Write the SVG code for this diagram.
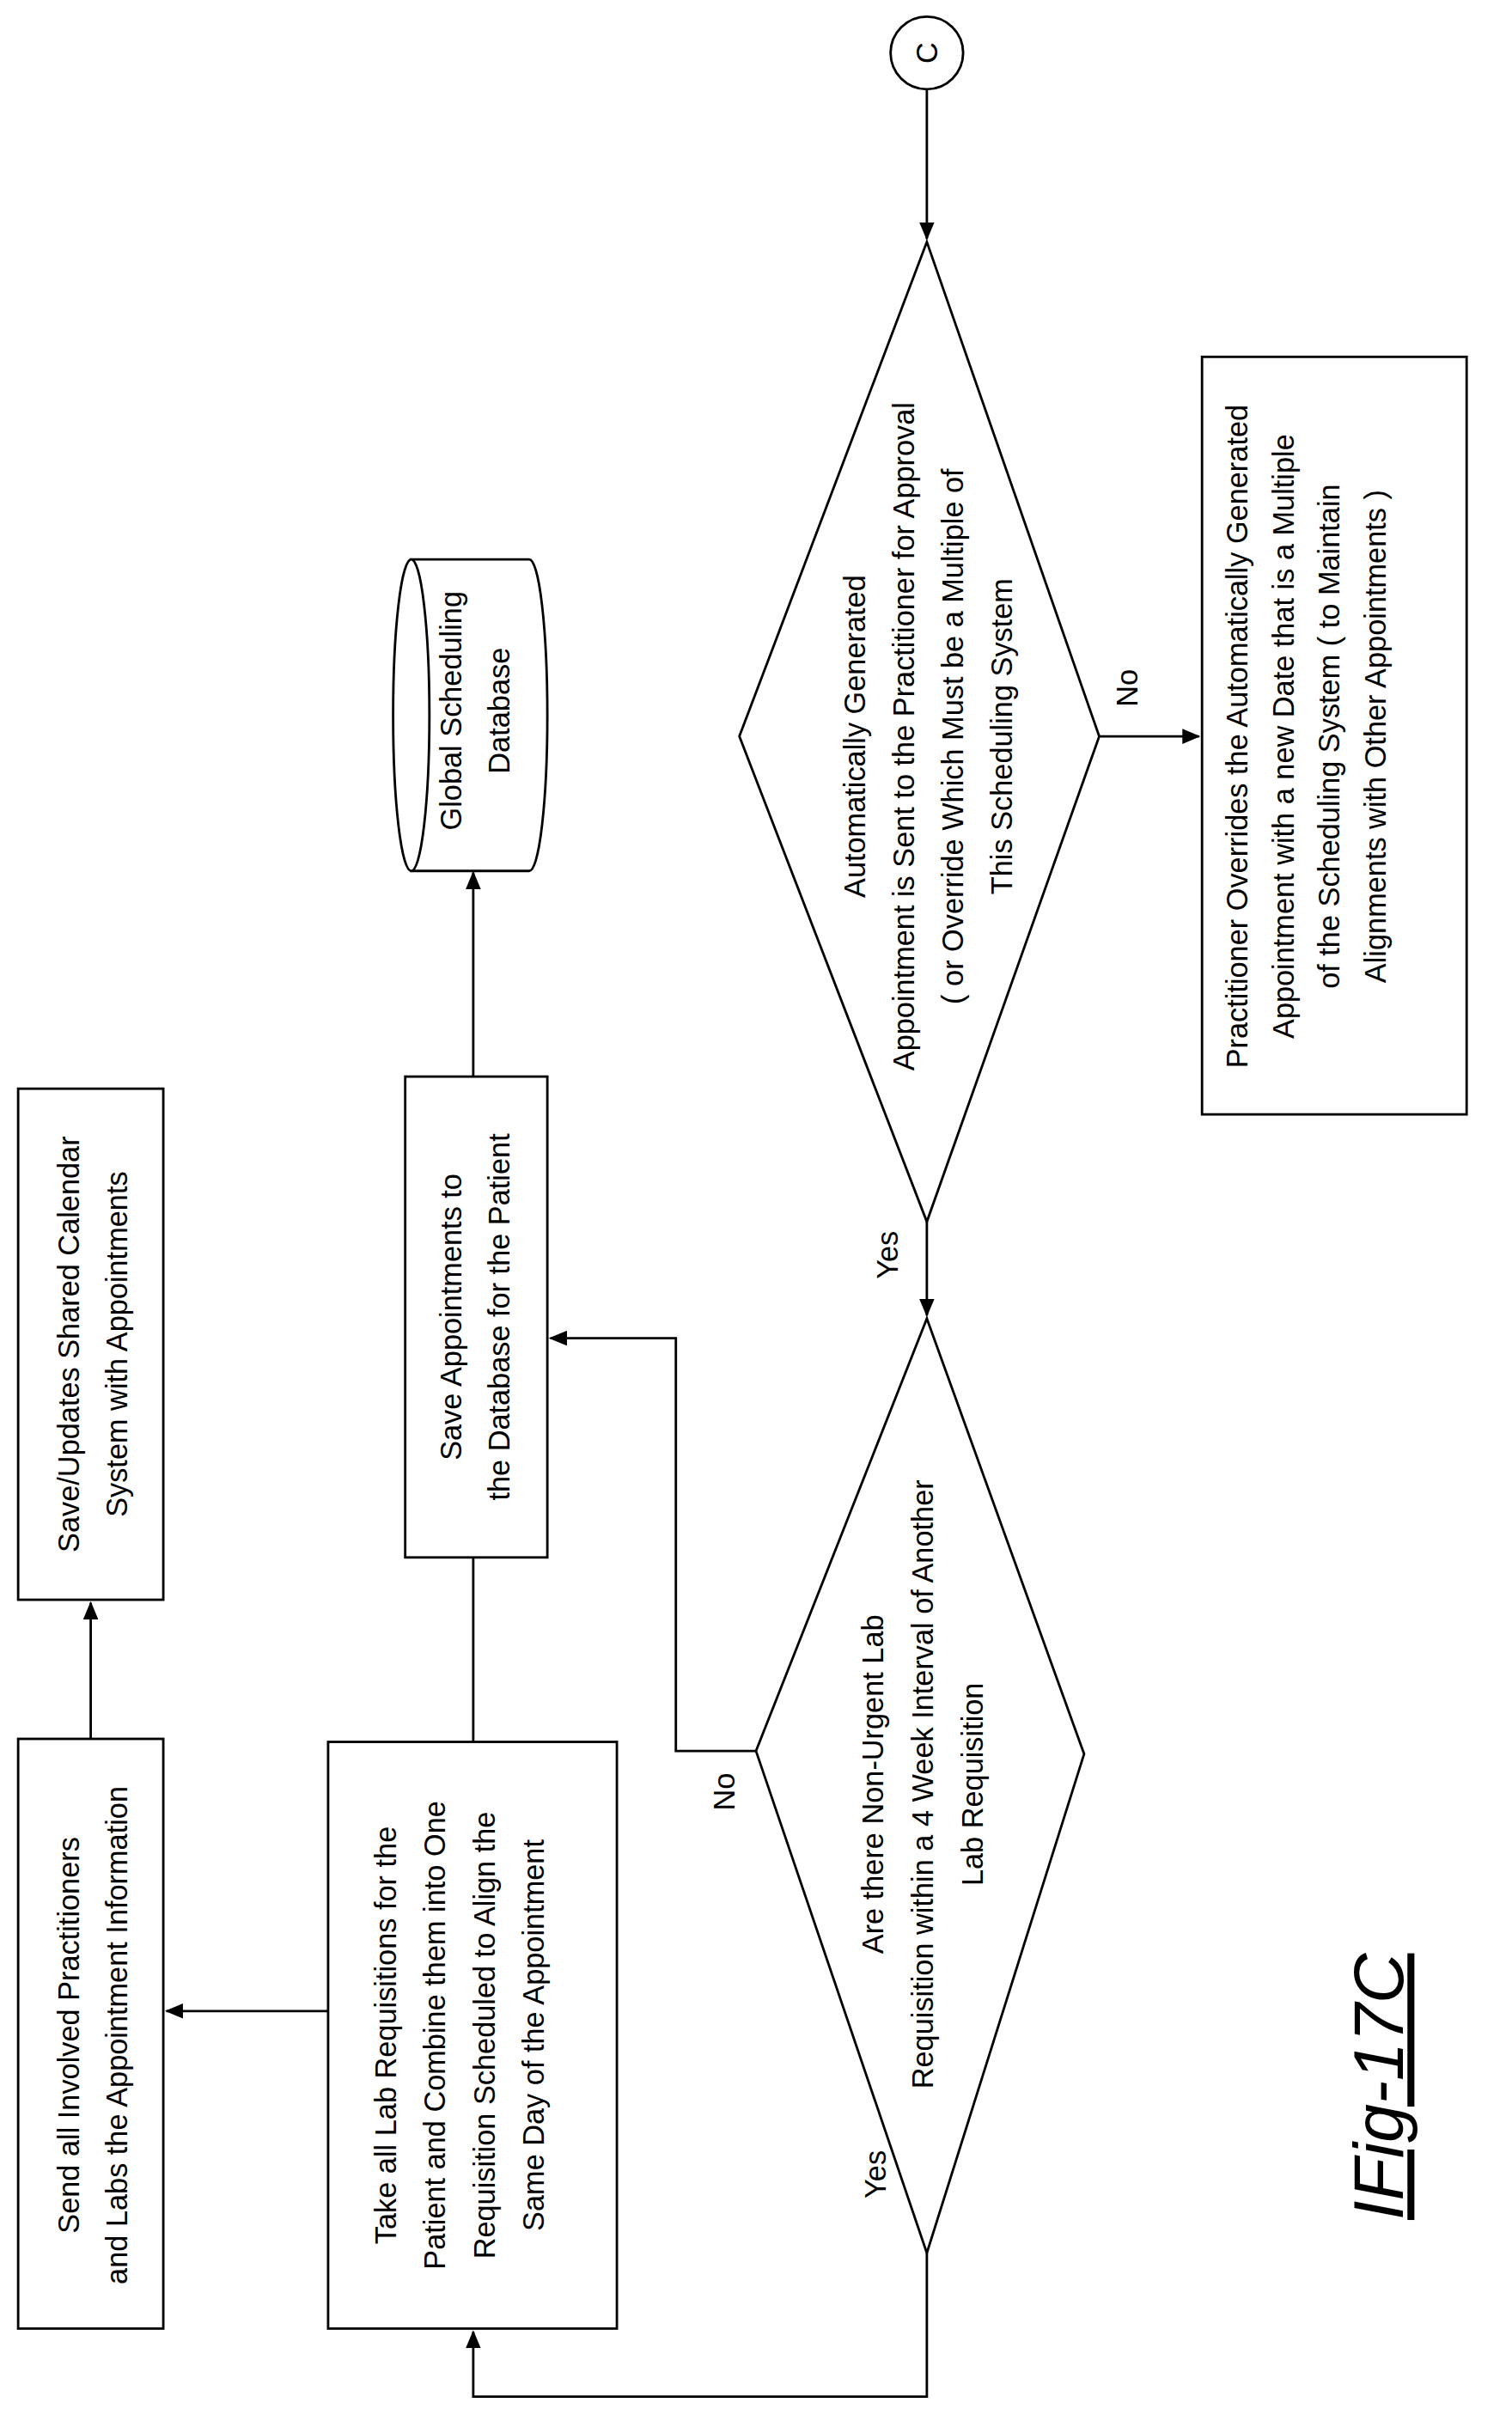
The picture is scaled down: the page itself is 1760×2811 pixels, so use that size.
<svg xmlns="http://www.w3.org/2000/svg" width="1760" height="2811" viewBox="0 0 1760 2811">
<style>
.s{fill:none;stroke:#000;stroke-width:1.6}
.w{fill:#fff;stroke:#000;stroke-width:1.6}
text{font-family:"Liberation Sans Narrow","Liberation Sans",Arial,sans-serif;font-size:19.5px;fill:#000;text-anchor:middle}
</style>
<defs><marker id="a" markerWidth="12" markerHeight="10" refX="11" refY="5" orient="auto" markerUnits="userSpaceOnUse"><path d="M0,0 L12,5 L0,10 Z" fill="#000"/></marker></defs>
<rect width="1760" height="2811" fill="#fff"/>
<g transform="scale(1.76)">
<g id="connectors">
<line class="s" x1="613" y1="59" x2="613" y2="158" marker-end="url(#a)"/>
<line class="s" x1="727" y1="487" x2="793" y2="487" marker-end="url(#a)"/>
<line class="s" x1="613" y1="808" x2="613" y2="870" marker-end="url(#a)"/>
<polyline class="s" points="500,1158 447,1158 447,885 364,885" marker-end="url(#a)"/>
<polyline class="s" points="613,1490 613,1585 313,1585 313,1542" marker-end="url(#a)"/>
<line class="s" x1="217" y1="1330" x2="110" y2="1330" marker-end="url(#a)"/>
<line class="s" x1="60" y1="1150" x2="60" y2="1060" marker-end="url(#a)"/>
<line class="s" x1="313" y1="1152" x2="313" y2="1030"/>
<line class="s" x1="313" y1="712" x2="313" y2="577" marker-end="url(#a)"/>
<text transform="rotate(-90 752 455)" x="752" y="455">No</text>
<text transform="rotate(-90 594 830)" x="594" y="830">Yes</text>
<text transform="rotate(-90 486 1185)" x="486" y="1185">No</text>
<text transform="rotate(-90 586 1438)" x="586" y="1438">Yes</text>
</g>
<g id="c"><circle class="w" cx="613" cy="35" r="24"/><text transform="rotate(-90 620 35)" x="620" y="35">C</text></g>
<g id="d1"><polygon class="w" points="613,160 727,487 613,808 489,487"/>
<text transform="rotate(-90 572 487)" x="572" y="487">Automatically Generated<tspan x="572" dy="32.5">Appointment is Sent to the Practitioner for Approval</tspan><tspan x="572" dy="32.5">( or Override Which Must be a Multiple of</tspan><tspan x="572" dy="32.5">This Scheduling System</tspan></text></g>
<g id="b1"><rect class="w" x="795" y="236" width="175" height="501"/>
<text transform="rotate(-90 825 487)" x="825" y="487">Practitioner Overrides the Automatically Generated<tspan x="825" dy="30.5">Appointment with a new Date that is a Multiple</tspan><tspan x="825" dy="30.5">of the Scheduling System ( to Maintain</tspan><tspan x="825" dy="30.5">Alignments with Other Appointments )</tspan></text></g>
<g id="d2"><polygon class="w" points="613,872 717,1160 613,1490 500,1158"/>
<text transform="rotate(-90 584 1180)" x="584" y="1180">Are there Non-Urgent Lab<tspan x="584" dy="33">Requisition within a 4 Week Interval of Another</tspan><tspan x="584" dy="33">Lab Requisition</tspan></text></g>
<g id="db"><path class="w" d="M272,370 L350,370 A12,103 0 0 1 350,576 L272,576 Z"/><ellipse class="w" cx="272" cy="473" rx="12" ry="103"/>
<text transform="rotate(-90 305 470)" x="305" y="470">Global Scheduling<tspan x="305" dy="32">Database</tspan></text></g>
<g id="save"><rect class="w" x="268" y="712" width="94" height="318"/>
<text transform="rotate(-90 305 871)" x="305" y="871">Save Appointments to<tspan x="305" dy="32">the Database for the Patient</tspan></text></g>
<g id="take"><rect class="w" x="217" y="1152" width="191" height="388"/>
<text transform="rotate(-90 262 1346)" x="262" y="1346">Take all Lab Requisitions for the<tspan x="262" dy="32.5">Patient and Combine them into One</tspan><tspan x="262" dy="32.5">Requisition Scheduled to Align the</tspan><tspan x="262" dy="32.5">Same Day of the Appointment</tspan></text></g>
<g id="send"><rect class="w" x="12" y="1150" width="96" height="390"/>
<text transform="rotate(-90 52 1346)" x="52" y="1346">Send all Involved Practitioners<tspan x="52" dy="32">and Labs the Appointment Information</tspan></text></g>
<g id="upd"><rect class="w" x="12" y="720" width="96" height="338"/>
<text transform="rotate(-90 52 889)" x="52" y="889">Save/Updates Shared Calendar<tspan x="52" dy="32">System with Appointments</tspan></text></g>
<g id="fig"><text transform="rotate(-90 928 1380)" x="928" y="1380" style="font-family:'Liberation Sans',Arial,sans-serif;font-size:46px;font-style:italic;text-decoration:underline">IFig-17C</text></g>
</g>
</svg>
